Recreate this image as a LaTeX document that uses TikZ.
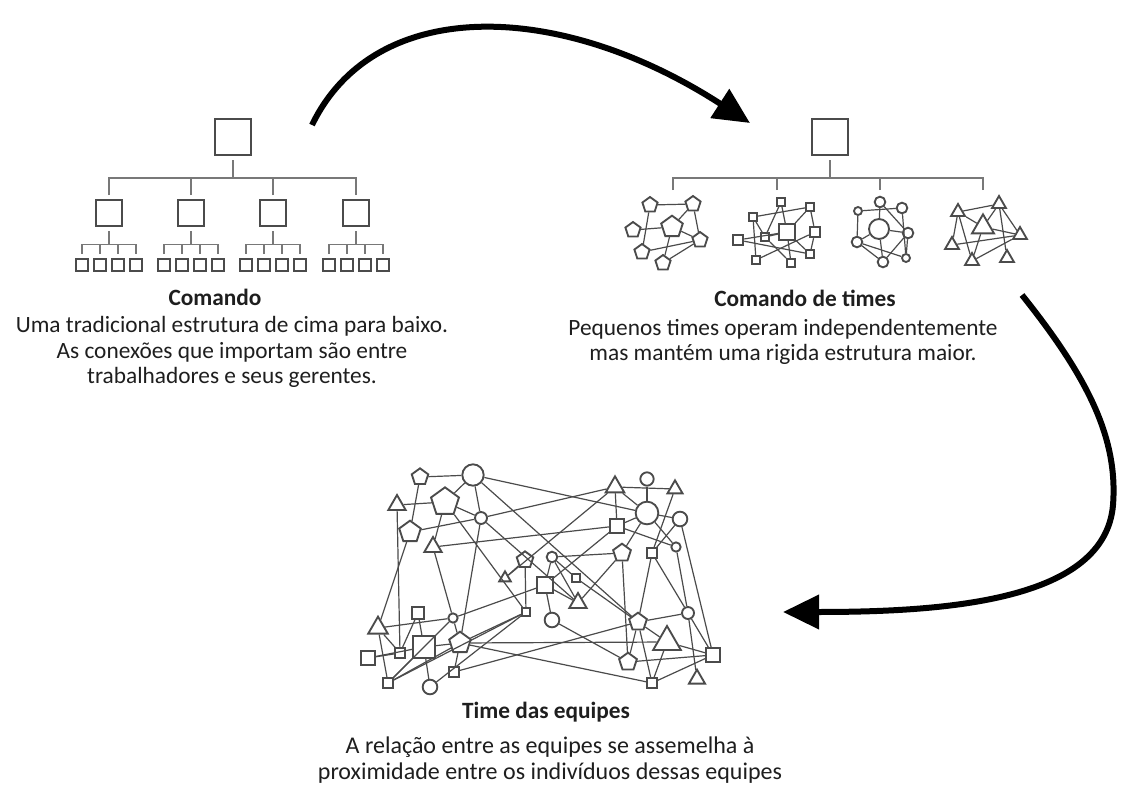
\documentclass[tikz,border=0pt]{standalone}
\usepackage{fontspec}
\setmainfont{Carlito}
\usetikzlibrary{shapes.geometric,arrows.meta}
\definecolor{gris}{RGB}{75,75,75}
\definecolor{grisclair}{RGB}{120,120,120}
\definecolor{encre}{RGB}{30,30,30}

\begin{document}
\begin{tikzpicture}[x=0.75pt,y=-0.75pt]
\tikzstyle{fleche}=[-{Triangle[length=27pt,width=25pt]},line width=4.5pt,black]
\tikzstyle{trait}=[draw=grisclair,line width=1.1pt]
\tikzstyle{lien}=[draw=gris,line width=0.9pt]
\tikzset{carre/.style={draw=gris,line width=1.4pt,minimum size=#1,inner sep=0pt},
carre/.default={9pt},
chef/.style={carre=#1,line width=1.5pt,outer sep=4pt},
rond/.style={circle,draw=gris,line width=1.4pt,minimum size=#1,inner sep=0pt},
rond/.default={8pt},
penta/.style={regular polygon,regular polygon sides=5,draw=gris,line width=1.4pt,minimum size=#1,inner sep=0pt},
penta/.default={12pt},
tri/.style={regular polygon,regular polygon sides=3,draw=gris,line width=1.4pt,minimum size=#1,inner sep=0pt},
tri/.default={12pt},
titre/.style={font=\fontsize{17.5}{19}\selectfont\bfseries,text=encre},
legende/.style={font=\fontsize{#1}{19}\selectfont,text=encre,align=center},
legende/.default={17.5}}

\useasboundingbox (0,0) rectangle (1122,792);

% Comando
\node[chef=27pt] (A) at (233,137) {};
\node[chef=19pt] (A1) at (109,213) {};
\node[chef=19pt] (A2) at (191,213) {};
\node[chef=19pt] (A3) at (273,213) {};
\node[chef=19pt] (A4) at (356,213) {};
\draw[trait] (A1.north) -- ++(0,-17) -| (A.south);
\draw[trait] (A2.north) -- ++(0,-17) -| (A.south);
\draw[trait] (A3.north) -- ++(0,-17) -| (A.south);
\draw[trait] (A4.north) -- ++(0,-17) -| (A.south);

\node[chef=9pt] (A1a) at (82,265) {};
\node[chef=9pt] (A1b) at (100,265) {};
\node[chef=9pt] (A1c) at (118,265) {};
\node[chef=9pt] (A1d) at (136,265) {};
\node[chef=9pt] (A2a) at (164,265) {};
\node[chef=9pt] (A2b) at (182,265) {};
\node[chef=9pt] (A2c) at (200,265) {};
\node[chef=9pt] (A2d) at (218,265) {};
\node[chef=9pt] (A3a) at (246,265) {};
\node[chef=9pt] (A3b) at (264,265) {};
\node[chef=9pt] (A3c) at (282,265) {};
\node[chef=9pt] (A3d) at (300,265) {};
\node[chef=9pt] (A4a) at (329,265) {};
\node[chef=9pt] (A4b) at (347,265) {};
\node[chef=9pt] (A4c) at (365,265) {};
\node[chef=9pt] (A4d) at (383,265) {};
\draw[trait] (A1a.north) -- ++(0,-9) -| (A1.south);
\draw[trait] (A1b.north) -- ++(0,-9) -| (A1.south);
\draw[trait] (A1c.north) -- ++(0,-9) -| (A1.south);
\draw[trait] (A1d.north) -- ++(0,-9) -| (A1.south);
\draw[trait] (A2a.north) -- ++(0,-9) -| (A2.south);
\draw[trait] (A2b.north) -- ++(0,-9) -| (A2.south);
\draw[trait] (A2c.north) -- ++(0,-9) -| (A2.south);
\draw[trait] (A2d.north) -- ++(0,-9) -| (A2.south);
\draw[trait] (A3a.north) -- ++(0,-9) -| (A3.south);
\draw[trait] (A3b.north) -- ++(0,-9) -| (A3.south);
\draw[trait] (A3c.north) -- ++(0,-9) -| (A3.south);
\draw[trait] (A3d.north) -- ++(0,-9) -| (A3.south);
\draw[trait] (A4a.north) -- ++(0,-9) -| (A4.south);
\draw[trait] (A4b.north) -- ++(0,-9) -| (A4.south);
\draw[trait] (A4c.north) -- ++(0,-9) -| (A4.south);
\draw[trait] (A4d.north) -- ++(0,-9) -| (A4.south);

\node[titre] (T1) at (215,297) {Comando};
\node[legende] (L1) at (232,352) {Uma tradicional estrutura de cima para baixo.\\As conexões que importam são entre\\trabalhadores e seus gerentes.};

% Comando de times
\node[chef=27pt] (B) at (830,137) {};
\coordinate (B1) at (673,190);
\coordinate (B2) at (777,190);
\coordinate (B3) at (880,190);
\coordinate (B4) at (983,190);
\draw[trait] (B1) -- ++(0,-12) -| (B.south);
\draw[trait] (B2) -- ++(0,-12) -| (B.south);
\draw[trait] (B3) -- ++(0,-12) -| (B.south);
\draw[trait] (B4) -- ++(0,-12) -| (B.south);

% pentagones
\node[penta=17pt] (P0) at (672,227) {};
\node[penta] (P1) at (650,205) {};
\node[penta] (P2) at (693,204) {};
\node[penta] (P3) at (633,230) {};
\node[penta] (P4) at (642,252) {};
\node[penta] (P5) at (700,240) {};
\node[penta] (P6) at (663,263) {};
\draw[lien] (P1) -- (P2); \draw[lien] (P1) -- (P4); \draw[lien] (P2) -- (P5);
\draw[lien] (P3) -- (P0); \draw[lien] (P2) -- (P0); \draw[lien] (P0) -- (P5);
\draw[lien] (P4) -- (P5); \draw[lien] (P6) -- (P5); \draw[lien] (P0) -- (P6);

% carres
\node[carre=12pt] (S0) at (787,232) {};
\node[carre=6pt] (S1) at (781,202) {};
\node[carre=6pt] (S2) at (810,207) {};
\node[carre=6pt] (S3) at (753,217) {};
\node[carre=6pt] (S4) at (765,237) {};
\node[carre=8pt] (S5) at (815,232) {};
\node[carre=8pt] (S6) at (738,240) {};
\node[carre=6pt] (S7) at (756,260) {};
\node[carre=6pt] (S8) at (791,263) {};
\node[carre=6pt] (S9) at (810,254) {};
\draw[lien] (S1) -- (S0); \draw[lien] (S3) -- (S2); \draw[lien] (S3) -- (S4);
\draw[lien] (S3) -- (S7); \draw[lien] (S6) -- (S0); \draw[lien] (S4) -- (S0);
\draw[lien] (S0) -- (S2); \draw[lien] (S0) -- (S9); \draw[lien] (S5) -- (S2);
\draw[lien] (S5) -- (S9); \draw[lien] (S7) -- (S5); \draw[lien] (S6) -- (S9);
\draw[lien] (S0) -- (S8); \draw[lien] (S4) -- (S8); \draw[lien] (S1) -- (S4);

% ronds
\node[rond=15pt] (C0) at (879,229) {};
\node[rond] (C1) at (880,202) {};
\node[rond=6pt] (C2) at (858,211) {};
\node[rond] (C3) at (902,208) {};
\node[rond] (C4) at (908,233) {};
\node[rond] (C5) at (857,242) {};
\node[rond] (C6) at (883,262) {};
\node[rond=6pt] (C7) at (906,258) {};
\draw[lien] (C1) -- (C0); \draw[lien] (C2) -- (C3); \draw[lien] (C2) -- (C5);
\draw[lien] (C1) -- (C4); \draw[lien] (C0) -- (C4); \draw[lien] (C5) -- (C0);
\draw[lien] (C5) -- (C6); \draw[lien] (C5) -- (C7); \draw[lien] (C0) -- (C6);
\draw[lien] (C4) -- (C6); \draw[lien] (C4) -- (C7); \draw[lien] (C3) -- (C7);

% triangles
\node[tri=19pt] (D0) at (983,227) {};
\node[tri] (D1) at (958,212) {};
\node[tri] (D2) at (999,204) {};
\node[tri] (D3) at (1020,235) {};
\node[tri] (D4) at (952,245) {};
\node[tri] (D5) at (972,261) {};
\node[tri] (D6) at (1007,258) {};
\draw[lien] (D1) -- (D2); \draw[lien] (D1) -- (D0); \draw[lien] (D1) -- (D4);
\draw[lien] (D1) -- (D5); \draw[lien] (D2) -- (D0); \draw[lien] (D2) -- (D3);
\draw[lien] (D2) -- (D6); \draw[lien] (D0) -- (D3); \draw[lien] (D4) -- (D3);
\draw[lien] (D5) -- (D3); \draw[lien] (D5) -- (D0);

\node[titre] (T2) at (805,298) {Comando de times};
\node[legende] (L2) at (783,342) {Pequenos times operam independentemente\\mas mantém uma rigida estrutura maior.};

% Time das equipes
\node[penta=13pt] (n1) at (420,477) {};
\node[rond=16pt] (n2) at (473,475) {};
\node[tri=15pt] (n3) at (397,505) {};
\node[penta=22pt] (n4) at (445,502) {};
\node[rond=9pt] (n5) at (481,518) {};
\node[penta=17pt] (n6) at (410,532) {};
\node[tri=15pt] (n7) at (433,547) {};
\node[penta=13pt] (n8) at (525,560) {};
\node[rond=8pt] (n9) at (552,557) {};
\node[tri=10pt] (n10) at (505,578) {};
\node[carre=12pt] (n11) at (545,585) {};
\node[carre=6pt] (n12) at (576,578) {};
\node[tri=15pt] (n13) at (578,603) {};
\node[carre=6pt] (n14) at (526,612) {};
\node[rond=11pt] (n15) at (552,620) {};
\node[carre=9pt] (n16) at (418,613) {};
\node[rond=7pt] (n17) at (453,618) {};
\node[tri=17pt] (n18) at (378,628) {};
\node[carre=16pt] (n19) at (424,647) {};
\node[penta=17pt] (n20) at (460,643) {};
\node[carre=7pt] (n21) at (400,653) {};
\node[carre=10pt] (n22) at (368,658) {};
\node[carre=7pt] (n23) at (454,672) {};
\node[carre=7pt] (n24) at (388,683) {};
\node[rond=11pt] (n25) at (430,687) {};
\node[tri=16pt] (n26) at (615,487) {};
\node[rond=10pt] (n27) at (647,479) {};
\node[tri=13pt] (n28) at (675,489) {};
\node[rond=17pt] (n29) at (647,513) {};
\node[rond=11pt] (n30) at (680,519) {};
\node[carre=10pt] (n31) at (617,526) {};
\node[penta=14pt] (n32) at (622,553) {};
\node[carre=7pt] (n33) at (652,553) {};
\node[rond=7pt] (n34) at (676,547) {};
\node[penta=14pt] (n35) at (638,622) {};
\node[rond=9pt] (n36) at (688,613) {};
\node[tri=24pt] (n37) at (667,642) {};
\node[carre=10pt] (n38) at (713,655) {};
\node[penta=14pt] (n39) at (628,662) {};
\node[carre=7pt] (n40) at (652,683) {};
\node[tri=14pt] (n41) at (697,679) {};

\draw[lien] (n1) -- (n2); \draw[lien] (n1) -- (n6); \draw[lien] (n3) -- (n4);
\draw[lien] (n3) -- (n21); \draw[lien] (n2) -- (n4); \draw[lien] (n2) -- (n5);
\draw[lien] (n2) -- (n29); \draw[lien] (n2) -- (n35); \draw[lien] (n4) -- (n5);
\draw[lien] (n4) -- (n7); \draw[lien] (n4) -- (n14); \draw[lien] (n5) -- (n6);
\draw[lien] (n5) -- (n26); \draw[lien] (n5) -- (n13); \draw[lien] (n5) -- (n20);
\draw[lien] (n6) -- (n18); \draw[lien] (n7) -- (n31); \draw[lien] (n7) -- (n17);
\draw[lien] (n8) -- (n14); \draw[lien] (n8) -- (n10); \draw[lien] (n10) -- (n26);
\draw[lien] (n9) -- (n12); \draw[lien] (n9) -- (n13); \draw[lien] (n9) -- (n32);
\draw[lien] (n9) -- (n11); \draw[lien] (n11) -- (n17); \draw[lien] (n11) -- (n13);
\draw[lien] (n11) -- (n31); \draw[lien] (n12) -- (n35); \draw[lien] (n13) -- (n32);
\draw[lien] (n14) -- (n20); \draw[lien] (n15) -- (n39); \draw[lien] (n15) -- (n11);
\draw[lien] (n16) -- (n19); \draw[lien] (n16) -- (n21); \draw[lien] (n17) -- (n18);
\draw[lien] (n17) -- (n20); \draw[lien] (n17) -- (n24); \draw[lien] (n18) -- (n24);
\draw[lien] (n18) -- (n21); \draw[lien] (n19) -- (n22); \draw[lien] (n19) -- (n20);
\draw[lien] (n19) -- (n24); \draw[lien] (n19) -- (n25); \draw[lien] (n20) -- (n37);
\draw[lien] (n20) -- (n24); \draw[lien] (n20) -- (n23); \draw[lien] (n21) -- (n22);
\draw[lien] (n23) -- (n35); \draw[lien] (n20) -- (n40); \draw[lien] (n25) -- (n14);
\draw[lien] (n24) -- (n14); \draw[lien] (n26) -- (n28); \draw[lien] (n26) -- (n29);
\draw[lien] (n26) -- (n31); \draw[lien] (n27) -- (n29); \draw[lien] (n28) -- (n33);
\draw[lien] (n29) -- (n30); \draw[lien] (n29) -- (n31); \draw[lien] (n29) -- (n34);
\draw[lien] (n29) -- (n32); \draw[lien] (n30) -- (n38); \draw[lien] (n30) -- (n33);
\draw[lien] (n31) -- (n34); \draw[lien] (n32) -- (n39); \draw[lien] (n33) -- (n35);
\draw[lien] (n33) -- (n36); \draw[lien] (n34) -- (n36); \draw[lien] (n35) -- (n36);
\draw[lien] (n35) -- (n37); \draw[lien] (n35) -- (n40); \draw[lien] (n35) -- (n39);
\draw[lien] (n36) -- (n38); \draw[lien] (n36) -- (n41); \draw[lien] (n37) -- (n40);
\draw[lien] (n37) -- (n38); \draw[lien] (n38) -- (n39); \draw[lien] (n38) -- (n40);

\node[titre] (T3) at (546,712) {Time das equipes};
\node[legende=18] (L3) at (550,760) {A relação entre as equipes se assemelha à\\proximidade entre os indivíduos dessas equipes};

% fleches
\coordinate (F1a) at (312,125);
\coordinate (F1b) at (750,123);
\coordinate (F2a) at (1022,295);
\coordinate (F2b) at (783,612);
\draw[fleche] (F1a) .. controls (375,-5) and (560,0) .. (F1b);
\draw[fleche] (F2a) .. controls (1090,380) and (1118,440) .. (1113,505) .. controls (1105,600) and (950,612) .. (F2b);

\end{tikzpicture}
\end{document}
